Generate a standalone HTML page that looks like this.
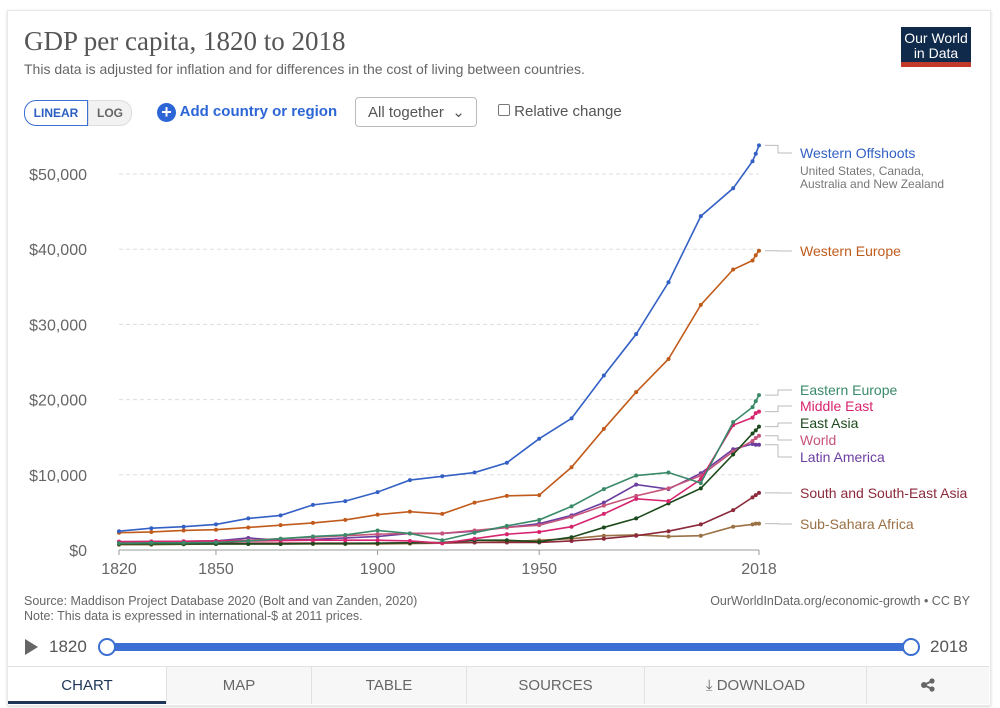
<!DOCTYPE html>
<html><head><meta charset="utf-8"><style>
body{margin:0;width:1000px;height:708px;background:#fff;font-family:"Liberation Sans",sans-serif;overflow:hidden;position:relative}
.card{position:absolute;left:7px;top:10px;width:982px;height:694px;border:1px solid #e8e8e8;box-shadow:0 1px 3px rgba(0,0,0,.15);background:#fff}
.abs{position:absolute}
.tab{position:absolute;top:666px;height:38px;line-height:38px;text-align:center;font-size:15px;color:#666;background:#f7f7f7;border-left:1px solid #e2e2e2;border-top:1px solid #e2e2e2;box-sizing:border-box}
</style></head><body>
<div class="card"></div>
<div class="abs" style="left:24px;top:26px;font-family:'Liberation Serif',serif;font-size:27px;color:#555">GDP per capita, 1820 to 2018</div>
<div class="abs" style="left:24px;top:61px;font-size:14px;color:#666">This data is adjusted for inflation and for differences in the cost of living between countries.</div>
<div class="abs" style="left:901px;top:27px;width:70px;height:40px;background:#0f2a4a;color:#fff;font-size:14px;line-height:15px;text-align:center;padding-top:4px;box-sizing:border-box;border-bottom:5px solid #c0392b">Our World<br>in Data</div>
<div class="abs" style="left:24px;top:100px;width:62px;height:24px;border:1px solid #3b6fd3;border-radius:12px 0 0 12px;color:#2c5fc1;font-size:12px;font-weight:bold;line-height:24px;text-align:center">LINEAR</div>
<div class="abs" style="left:88px;top:100px;width:42px;height:24px;border:1px solid #ddd;border-radius:0 12px 12px 0;background:#f2f2f2;color:#666;font-size:12px;font-weight:bold;line-height:24px;text-align:center">LOG</div>
<div class="abs" style="left:157px;top:101px;font-size:15px;font-weight:bold;color:#2c66d6;line-height:22px"><span style="display:inline-block;width:19px;height:19px;border-radius:50%;background:#2c66d6;color:#fff;text-align:center;line-height:19px;font-size:18px;vertical-align:-2px">+</span> Add country or region</div>
<div class="abs" style="left:355px;top:97px;width:122px;height:30px;border:1px solid #bbb;border-radius:4px;font-size:15px;color:#555;line-height:30px;padding-left:12px;box-sizing:border-box">All together&nbsp;&nbsp;⌄</div>
<div class="abs" style="left:498px;top:102px;font-size:15px;color:#555;line-height:20px"><span style="display:inline-block;width:10px;height:10px;border:1px solid #777;border-radius:2px;vertical-align:0px"></span> Relative change</div>
<svg class="abs" style="left:0;top:0" width="1000" height="708" id="chart"></svg>
<div class="abs" style="left:24px;top:594px;font-size:12.5px;color:#666;line-height:15px">Source: Maddison Project Database 2020 (Bolt and van Zanden, 2020)<br>Note: This data is expressed in international-$ at 2011 prices.</div>
<div class="abs" style="right:30px;top:594px;font-size:12.5px;color:#666">OurWorldInData.org/economic-growth • CC BY</div>
<div class="abs" style="left:25px;top:639px;width:0;height:0;border-left:13px solid #666;border-top:8px solid transparent;border-bottom:8px solid transparent"></div>
<div class="abs" style="left:49px;top:637px;font-size:17px;color:#555">1820</div>
<div class="abs" style="left:107px;top:643px;width:805px;height:8px;background:#3b6fd3;border-radius:4px"></div>
<div class="abs" style="left:98px;top:638px;width:14px;height:14px;border:2px solid #3b6fd3;border-radius:50%;background:#fff"></div>
<div class="abs" style="left:902px;top:638px;width:14px;height:14px;border:2px solid #3b6fd3;border-radius:50%;background:#fff"></div>
<div class="abs" style="left:930px;top:637px;font-size:17px;color:#555">2018</div>
<div class="tab" style="left:8px;width:158px;background:#fff;border-left:none;color:#1d3557;border-bottom:3px solid #1d3557">CHART</div>
<div class="tab" style="left:166px;width:145px">MAP</div>
<div class="tab" style="left:311px;width:155px">TABLE</div>
<div class="tab" style="left:466px;width:178px">SOURCES</div>
<div class="tab" style="left:644px;width:222px">⤓ DOWNLOAD</div>
<div class="tab" style="left:866px;width:123px"><svg width="16" height="14" style="vertical-align:-2px"><line x1="4" y1="7" x2="12" y2="3" stroke="#666" stroke-width="2"/><line x1="4" y1="7" x2="12" y2="11" stroke="#666" stroke-width="2"/><circle cx="4" cy="7" r="3" fill="#666"/><circle cx="12" cy="3" r="2.6" fill="#666"/><circle cx="12" cy="11" r="2.6" fill="#666"/></svg></div>
<script>
const years=[1820,1830,1840,1850,1860,1870,1880,1890,1900,1910,1920,1930,1940,1950,1960,1970,1980,1990,2000,2010,2016,2017,2018];
const westernOffshoots=[2500,2900,3100,3400,4200,4600,6000,6500,7700,9300,9800,10300,11600,14800,17500,23200,28700,35600,44400,48100,51700,52700,53800];
const westernEurope=[2300,2400,2600,2700,3000,3300,3600,4000,4700,5100,4800,6300,7200,7300,11000,16100,21000,25400,32600,37300,38500,39200,39800];
const easternEurope=[900,950,950,1000,1200,1500,1800,2000,2600,2200,1300,2300,3200,4000,5800,8100,9900,10300,8900,17000,19000,19800,20600];
const middleEast=[1100,1100,1150,1200,1200,1250,1300,1300,1300,1200,900,1500,2100,2400,3100,4800,6800,6500,9400,16600,17600,18200,18400];
const eastAsia=[800,800,800,800,800,800,850,850,900,950,1000,1300,1300,1100,1700,3000,4200,6200,8200,12700,15500,15900,16400];
const world=[1100,1150,1150,1200,1300,1500,1700,1900,2100,2200,2200,2600,3000,3300,4400,5900,7200,8200,9900,13100,14500,14900,15200];
const latinAmerica=[1100,1100,1150,1200,1600,1300,1400,1600,1800,2200,2200,2500,3000,3500,4600,6300,8700,8100,10200,13400,14100,14000,14000];
const southAsia=[900,900,900,900,900,900,900,900,900,950,950,1000,1000,1000,1200,1500,1900,2500,3400,5300,7000,7300,7600];
const subSahara=[700,700,750,800,800,800,800,800,800,850,900,1000,1100,1300,1500,1900,2000,1800,1900,3100,3400,3500,3500];
const seriesNames=["Western Offshoots","Western Europe","Eastern Europe","Middle East","East Asia","World","Latin America","South and South-East Asia","Sub-Sahara Africa"];
const seriesValues=[westernOffshoots,westernEurope,easternEurope,middleEast,eastAsia,world,latinAmerica,southAsia,subSahara];
const yTicks=[0,10000,20000,30000,40000,50000];
const yTickLabels=["$0","$10,000","$20,000","$30,000","$40,000","$50,000"];
const xTicks=[1820,1850,1900,1950,2018];
const colors=["#3360c4","#c15b1c","#3a8a6a","#d6246e","#1d4a1d","#c6547a","#6b3fa0","#8b2a3a","#9a7045"];
const labelY=[158,256,395,411,428,445,462,498,529];
const NS="http://www.w3.org/2000/svg";
const svg=document.getElementById('chart');
const x0=119,x1=759,yb=550,yt=174;
const X=v=>x0+(v-1820)/(2018-1820)*(x1-x0);
const Y=v=>yb-v/50000*(yb-yt);
function mk(t,a){const e=document.createElementNS(NS,t);for(const k in a)e.setAttribute(k,a[k]);svg.appendChild(e);return e;}
yTicks.forEach((t,i)=>{
  if(t>0){const g=mk('line',{x1:x0,x2:x1,y1:Y(t),y2:Y(t),stroke:'#ddd','stroke-dasharray':'4,3'});
  }
  const tx=mk('text',{x:87,y:Y(t)+6,'text-anchor':'end','font-size':16,fill:'#666','font-family':'Liberation Sans,sans-serif'});
  tx.textContent=yTickLabels[i];
  
});
const ax=mk('line',{x1:x0,x2:x1,y1:yb,y2:yb,stroke:'#999'});

xTicks.forEach(t=>{
  const l=mk('line',{x1:X(t),x2:X(t),y1:yb,y2:yb+5,stroke:'#999'});
  
  const tx=mk('text',{x:X(t),y:yb+24,'text-anchor':'middle','font-size':16,fill:'#666','font-family':'Liberation Sans,sans-serif'});
  tx.textContent=t;
  
});
for(let s=seriesValues.length-1;s>=0;s--){
  const vals=seriesValues[s];
  const p=mk('polyline',{points:vals.map((v,i)=>X(years[i])+','+Y(v)).join(' '),fill:'none',stroke:colors[s],'stroke-width':1.6});
  
  vals.forEach((v,i)=>{const c=mk('circle',{cx:X(years[i]),cy:Y(v),r:2,fill:colors[s]});
    });
  const ey=Y(vals[vals.length-1]),ly=labelY[s];
  const con=mk('polyline',{points:`765,${ey} 778,${ey} 778,${ly-5} 792,${ly-5}`,fill:'none',stroke:'#bbb'});
  
  const tx=mk('text',{x:800,y:ly,'font-size':14,fill:colors[s],'font-family':'Liberation Sans,sans-serif'});
  tx.textContent=seriesNames[s];
  
}
['United States, Canada,','Australia and New Zealand'].forEach((t,i)=>{
  const tx=mk('text',{x:800,y:175+i*13,'font-size':12,fill:'#777','font-family':'Liberation Sans,sans-serif'});
  tx.textContent=t;
  
});
</script>
</body></html>
